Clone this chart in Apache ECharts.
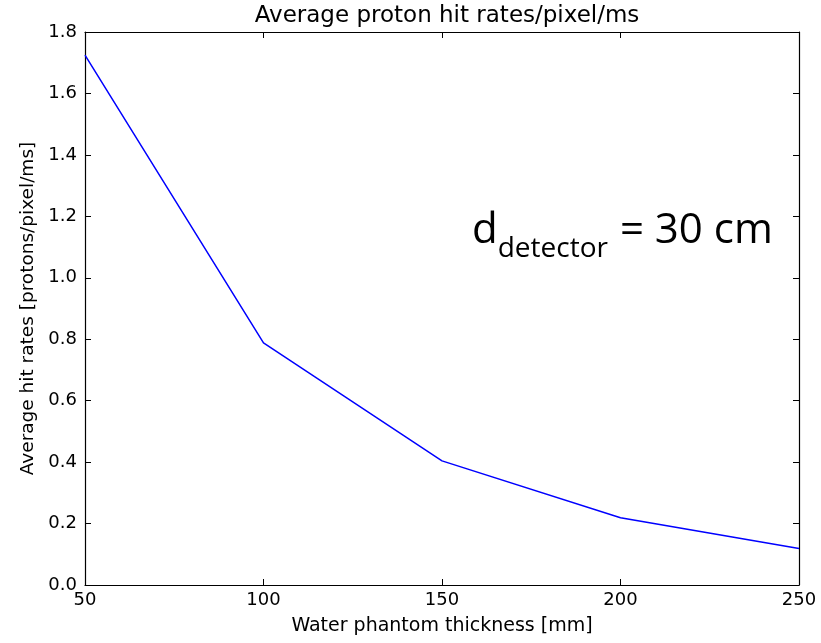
<!DOCTYPE html>
<html>
<head>
<meta charset="utf-8">
<script src="https://cdn.jsdelivr.net/npm/echarts@6/dist/echarts.min.js"></script>
<style>html,body{margin:0;padding:0;background:#fff}#c{width:821px;height:643px}</style>
</head>
<body>
<div id="c"></div>
<script>
var thickness = [50, 100, 150, 200, 250];
var hitRates = [1.725, 0.788, 0.404, 0.219, 0.119];
var xTicks = [50, 100, 150, 200, 250];
var yTicks = [0.0, 0.2, 0.4, 0.6, 0.8, 1.0, 1.2, 1.4, 1.6, 1.8];

var chart = echarts.init(document.getElementById('c'));
var F = 'DejaVu Sans';
var axisCommon = {
  axisLine: {show: true, onZero: false, lineStyle: {color: '#000', width: 1.2}},
  axisTick: {show: true, inside: true, length: 6, lineStyle: {color: '#000', width: 1}},
  splitLine: {show: false}
};
chart.setOption({
  animation: false,
  backgroundColor: '#fff',
  title: {
    text: 'Average proton hit rates/pixel/ms',
    left: 442, top: 0, textAlign: 'center',
    textStyle: {fontFamily: F, fontSize: 23, fontWeight: 'normal', color: '#000'}
  },
  grid: {left: 85, right: 22, top: 32, bottom: 58},
  xAxis: [
    Object.assign({
      type: 'value', min: 50, max: 250, interval: 50, position: 'bottom',
      name: 'Water phantom thickness [mm]', nameLocation: 'middle', nameGap: 32,
      nameTextStyle: {fontFamily: F, fontSize: 19, color: '#000'},
      axisLabel: {fontFamily: F, fontSize: 18, color: '#000', margin: 6,
        formatter: function (v) { return xTicks.indexOf(v) >= 0 ? String(v) : ''; }}
    }, axisCommon),
    Object.assign({
      type: 'value', min: 50, max: 250, interval: 50, position: 'top',
      axisLabel: {show: false}
    }, axisCommon)
  ],
  yAxis: [
    Object.assign({
      type: 'value', min: 0, max: 1.8, interval: 0.2, position: 'left',
      name: 'Average hit rates [protons/pixel/ms]', nameLocation: 'middle', nameGap: 47,
      nameTextStyle: {fontFamily: F, fontSize: 18.5, color: '#000'},
      axisLabel: {fontFamily: F, fontSize: 18, color: '#000', margin: 8,
        formatter: function (v) {
          var idx = Math.round(v / 0.2);
          return yTicks[idx] !== undefined ? yTicks[idx].toFixed(1) : '';
        }}
    }, axisCommon),
    Object.assign({
      type: 'value', min: 0, max: 1.8, interval: 0.2, position: 'right',
      axisLabel: {show: false}
    }, axisCommon)
  ],
  series: [{
    type: 'line',
    data: thickness.map(function (t, i) { return [t, hitRates[i]]; }),
    showSymbol: false,
    lineStyle: {color: '#0000ff', width: 1.5},
    itemStyle: {color: '#0000ff'}
  }],
  graphic: [{
    type: 'text',
    left: 472, top: 210,
    style: {
      text: '{d|d}{s|detector}{d|= 30 cm}',
      rich: {
        d: {fontFamily: 'Open Sans', fontSize: 42, fill: '#000', verticalAlign: 'bottom', lineHeight: 50},
        s: {fontFamily: 'Open Sans', fontSize: 28, fill: '#000', verticalAlign: 'bottom', lineHeight: 50, padding: [0, 12, -11, 0]}
      }
    }
  }]
});
</script>
</body>
</html>
